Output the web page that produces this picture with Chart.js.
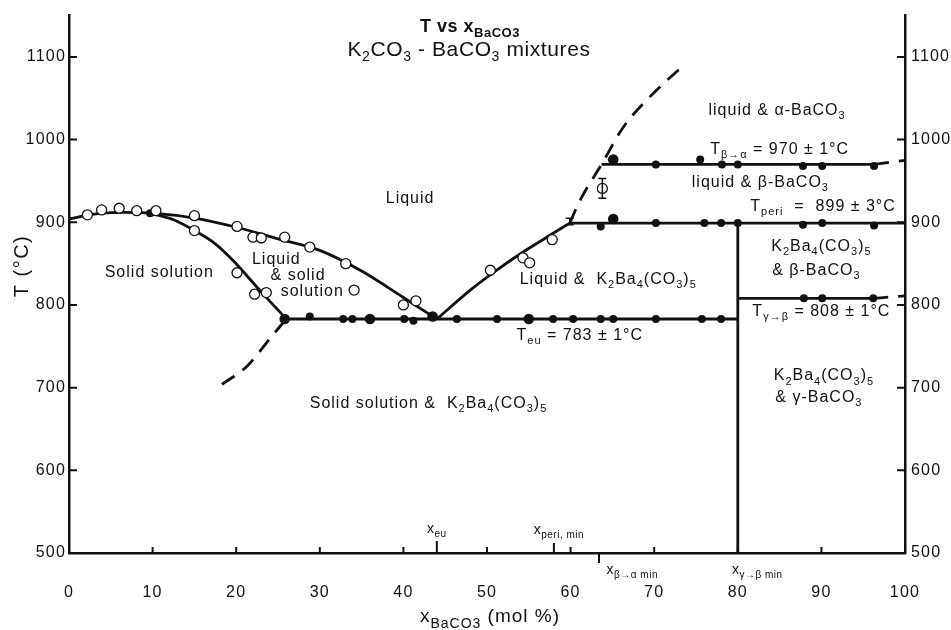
<!DOCTYPE html>
<html lang="en">
<head>
  <meta charset="UTF-8">
  <title>T vs xBaCO3 - K2CO3-BaCO3 mixtures</title>
  <script src="https://cdn.jsdelivr.net/npm/chart.js"></script>
  <style>
    html, body { margin: 0; padding: 0; background: #fff; }
    #wrap { width: 951px; height: 630px; }
  </style>
</head>
<body>
  <div id="wrap"><canvas id="chart" width="951" height="630"></canvas></div>

  <script>
    // axis ticks
    const xTicks = [0, 10, 20, 30, 40, 50, 60, 70, 80, 90, 100];
    const yTicks = [500, 600, 700, 800, 900, 1000, 1100];

    // liquidus, K2CO3-rich side (solid line)
    const liqLeftX = [0, 2, 4, 6.5, 10, 15, 20, 25, 30, 35, 40, 44];
    const liqLeftT = [904, 908, 911, 912, 911, 905, 894, 880, 866, 841, 809, 783];

    // solidus of the solid solution
    const solidusX = [9.7, 12.5, 15, 17.5, 19.6, 22.8, 26];
    const solidusT = [911, 903, 890, 874, 854, 818, 783];
    const solidusDashX = [18.3, 21.3, 24.4, 26];
    const solidusDashT = [704, 726, 764, 783];

    // liquidus, BaCO3-rich side
    const liqRightX = [44, 48, 51, 54, 57, 59.9];
    const liqRightT = [783, 818, 841, 862, 881, 899];
    const liqUpperX = [59.9, 61.1, 63.7, 66.3, 69.9, 73.3];
    const liqUpperT = [899, 926, 970, 1015, 1056, 1088];

    // invariant lines
    const eutecticX = [26, 80];
    const eutecticT = [783, 783];
    const periX = [59.9, 100];
    const periT = [899, 899];
    const betaAlphaX = [63.7, 96.3];
    const betaAlphaT = [970, 970];
    const betaAlphaDashX = [96.3, 100];
    const betaAlphaDashT = [970, 975];
    const gammaBetaX = [80, 96.2];
    const gammaBetaT = [808, 808];
    const gammaBetaDashX = [96.2, 100];
    const gammaBetaDashT = [808, 811];
    const compoundX = [80, 80];
    const compoundT = [899, 500];

    // measured points: filled dots (thermal arrests)
    const dotX = [9.7, 28.8, 32.8, 33.9, 40.1, 41.2, 46.4, 51.2, 57.9, 60.3, 63.6, 65.1, 70.2, 75.7, 78.0,
                  70.2, 75.5, 78.1, 80.0, 87.8, 90.1, 96.3,
                  63.6, 70.2, 76.0, 78.0, 80.0, 87.8, 90.1, 96.3,
                  87.9, 90.1, 96.2];
    const dotT = [911, 786, 783, 783, 783, 781, 783, 783, 783, 783, 783, 783, 783, 783, 783,
                  970, 976, 970, 970, 968, 968, 968,
                  895, 899, 899, 899, 899, 897, 899, 896,
                  808, 808, 808];
    const bigDotX = [25.8, 36.0, 43.5, 55.0, 65.1, 65.1];
    const bigDotT = [783, 783, 786, 783, 976, 904];

    // measured points: open circles (liquidus / solidus)
    const openX = [2.2, 3.9, 6.0, 8.1, 10.4, 15.0, 15.0, 20.1, 22.0, 23.0, 25.8, 28.8, 33.1,
                   20.1, 22.2, 23.6, 34.1, 40.0, 41.5, 50.4, 54.3, 55.1, 57.8, 63.8];
    const openT = [909, 915, 917, 914, 914, 908, 890, 895, 882, 881, 882, 870, 850,
                   839, 813, 815, 818, 800, 805, 842, 857, 851, 879, 941];

    // error bars
    const errX = [63.8, 59.9];
    const errT = [941, 901];
    const errD = [12, 4];

    // region and line labels (data units)
    const notes = [
      { x: 40.8, t: 929, s: 'Liquid' },
      { x: 10.8, t: 839, s: 'Solid solution' },
      { x: 24.8, t: 855, s: 'Liquid' },
      { x: 27.4, t: 835, s: '& solid' },
      { x: 29.1, t: 816, s: 'solution' },
      { x: 64.5, t: 831, s: 'Liquid &  K_2Ba_4(CO_3)_5' },
      { x: 43.0, t: 681, s: 'Solid solution &  K_2Ba_4(CO_3)_5' },
      { x: 61.1, t: 763, s: 'T_{eu} = 783 ± 1°C' },
      { x: 84.7, t: 1035, s: 'liquid & α-BaCO_3' },
      { x: 85.0, t: 988, s: 'T_{β→α} = 970 ± 1°C' },
      { x: 82.7, t: 948, s: 'liquid & β-BaCO_3' },
      { x: 90.2, t: 919, s: 'T_{peri}  =  899 ± 3°C' },
      { x: 90.0, t: 871, s: 'K_2Ba_4(CO_3)_5' },
      { x: 89.4, t: 842, s: '& β-BaCO_3' },
      { x: 90.0, t: 792, s: 'T_{γ→β} = 808 ± 1°C' },
      { x: 90.3, t: 714, s: 'K_2Ba_4(CO_3)_5' },
      { x: 89.7, t: 688, s: '& γ-BaCO_3' }
    ];

    const FONT = '"Liberation Sans", Arial, sans-serif';
    const INK = '#111';

    function pts(xs, ys) {
      return xs.map((x, i) => ({ x: x, y: ys[i] }));
    }

    function lineSet(xs, ys, dash) {
      return {
        data: pts(xs, ys),
        showLine: true,
        borderColor: INK,
        borderWidth: 2.8,
        borderDash: dash ? [15, 10] : [],
        pointRadius: 0,
        fill: false,
        cubicInterpolationMode: 'monotone',
        order: 2
      };
    }

    // text with _x or _{xx} subscripts
    function parseRich(s) {
      const segs = [];
      let buf = '', i = 0;
      while (i < s.length) {
        if (s[i] === '_') {
          if (buf) { segs.push({ t: buf, sub: false }); buf = ''; }
          i++;
          let t;
          if (s[i] === '{') { const j = s.indexOf('}', i); t = s.slice(i + 1, j); i = j + 1; }
          else { t = s[i]; i++; }
          segs.push({ t: t, sub: true });
        } else { buf += s[i]; i++; }
      }
      if (buf) segs.push({ t: buf, sub: false });
      return segs;
    }

    function drawRich(ctx, s, x, y, opt) {
      opt = opt || {};
      const size = opt.size || 16;
      const weight = opt.weight || 'normal';
      const subSize = opt.subSize || Math.round(size * 0.7);
      const main = weight + ' ' + size + 'px ' + FONT;
      const sub = weight + ' ' + subSize + 'px ' + FONT;
      const segs = parseRich(s);
      ctx.letterSpacing = opt.spacing || '1px';
      let w = 0;
      segs.forEach(g => { ctx.font = g.sub ? sub : main; g.w = ctx.measureText(g.t).width; w += g.w; });
      let cx = opt.align === 'left' ? x : x - w / 2;
      ctx.textAlign = 'left';
      ctx.textBaseline = 'middle';
      ctx.fillStyle = INK;
      segs.forEach(g => {
        ctx.font = g.sub ? sub : main;
        ctx.fillText(g.t, cx, g.sub ? y + size * 0.35 : y);
        cx += g.w;
      });
      ctx.letterSpacing = '0px';
    }

    const decor = {
      id: 'decor',
      beforeDraw(chart) {
        // wider tracking for the tick numbers, like the scanned figure
        chart.ctx.letterSpacing = '1.2px';
      },
      afterDraw(chart) {
        const ctx = chart.ctx;
        const xs = chart.scales.x, ys = chart.scales.y;
        const a = chart.chartArea;
        ctx.letterSpacing = '0px';
        ctx.save();
        ctx.strokeStyle = INK;
        ctx.lineWidth = 2;

        // inward tick marks
        yTicks.forEach(v => {
          const py = ys.getPixelForValue(v);
          ctx.beginPath();
          ctx.moveTo(a.left, py); ctx.lineTo(a.left + 8, py);
          ctx.moveTo(a.right - 8, py); ctx.lineTo(a.right, py);
          ctx.stroke();
        });
        xTicks.slice(1, -1).forEach(v => {
          const px = xs.getPixelForValue(v);
          ctx.beginPath();
          ctx.moveTo(px, a.bottom); ctx.lineTo(px, a.bottom - 6);
          ctx.stroke();
        });
        // composition markers on the x axis
        [[44, -12], [58, -10], [63.4, 10]].forEach(m => {
          const px = xs.getPixelForValue(m[0]);
          ctx.beginPath();
          ctx.moveTo(px, a.bottom); ctx.lineTo(px, a.bottom + m[1]);
          ctx.stroke();
        });

        // error bars
        ctx.lineWidth = 1.5;
        errX.forEach((x, i) => {
          const px = xs.getPixelForValue(x);
          const top = ys.getPixelForValue(errT[i] + errD[i]);
          const bot = ys.getPixelForValue(errT[i] - errD[i]);
          ctx.beginPath();
          ctx.moveTo(px, top); ctx.lineTo(px, bot);
          ctx.moveTo(px - 4, top); ctx.lineTo(px + 4, top);
          ctx.moveTo(px - 4, bot); ctx.lineTo(px + 4, bot);
          ctx.stroke();
        });

        // labels inside the diagram
        notes.forEach(n => {
          drawRich(ctx, n.s, xs.getPixelForValue(n.x), ys.getPixelForValue(n.t), { size: 16 });
        });

        // axis markers text
        drawRich(ctx, 'x_{eu}', xs.getPixelForValue(44), a.bottom - 24, { size: 14, subSize: 10, spacing: '0.5px' });
        drawRich(ctx, 'x_{peri, min}', xs.getPixelForValue(58.6), a.bottom - 23, { size: 14, subSize: 10, spacing: '0.5px' });
        drawRich(ctx, 'x_{β→α min}', xs.getPixelForValue(64.3), a.bottom + 17, { size: 14, subSize: 10, align: 'left', spacing: '0.5px' });
        drawRich(ctx, 'x_{γ→β min}', xs.getPixelForValue(79.3), a.bottom + 17, { size: 14, subSize: 10, align: 'left', spacing: '0.5px' });

        // title
        drawRich(ctx, 'T vs x_{BaCO3}', 470, 27, { size: 18, weight: 'bold', subSize: 13, spacing: '0.5px' });
        drawRich(ctx, 'K_2CO_3 - BaCO_3 mixtures', 469, 50, { size: 21, subSize: 14, spacing: '0.6px' });

        // axis titles
        drawRich(ctx, 'x_{BaCO3} (mol %)', 490, 617, { size: 19, subSize: 14, spacing: '1px' });
        ctx.translate(22, 266);
        ctx.rotate(-Math.PI / 2);
        drawRich(ctx, 'T (°C)', 0, 0, { size: 20, spacing: '1.5px' });
        ctx.restore();
      }
    };

    const tickFont = { family: FONT, size: 16 };
    const plain = v => String(v);

    new Chart(document.getElementById('chart'), {
      type: 'scatter',
      data: {
        datasets: [
          {
            data: pts(openX, openT),
            pointRadius: 5,
            pointBorderWidth: 1.3,
            pointBackgroundColor: '#fff',
            pointBorderColor: INK,
            order: 0
          },
          {
            data: pts(bigDotX, bigDotT),
            pointRadius: 5.3,
            pointBorderWidth: 0,
            pointBackgroundColor: INK,
            order: 1
          },
          {
            data: pts(dotX, dotT),
            pointRadius: 4,
            pointBorderWidth: 0,
            pointBackgroundColor: INK,
            order: 1
          },
          lineSet(liqLeftX, liqLeftT),
          lineSet(solidusX, solidusT),
          lineSet(solidusDashX, solidusDashT, true),
          lineSet(liqRightX, liqRightT),
          lineSet(liqUpperX, liqUpperT, true),
          lineSet(eutecticX, eutecticT),
          lineSet(periX, periT),
          lineSet(betaAlphaX, betaAlphaT),
          lineSet(betaAlphaDashX, betaAlphaDashT, true),
          lineSet(gammaBetaX, gammaBetaT),
          lineSet(gammaBetaDashX, gammaBetaDashT, true),
          lineSet(compoundX, compoundT)
        ]
      },
      options: {
        responsive: false,
        animation: false,
        layout: { padding: { top: 12, left: 0, right: 0, bottom: 0 } },
        plugins: { legend: { display: false }, tooltip: { enabled: false } },
        scales: {
          x: {
            type: 'linear', min: 0, max: 100,
            afterBuildTicks: s => { s.ticks = xTicks.map(v => ({ value: v })); },
            afterFit: s => { s.height = 77; },
            ticks: { font: tickFont, color: INK, padding: 30, maxRotation: 0, callback: plain },
            grid: { display: false, drawTicks: false },
            border: { color: INK, width: 2.5 }
          },
          y: {
            type: 'linear', position: 'left', min: 500, max: 1150,
            afterBuildTicks: s => { s.ticks = yTicks.map(v => ({ value: v })); },
            afterFit: s => { s.width = 69; },
            ticks: { font: tickFont, color: INK, padding: 3, callback: plain },
            grid: { display: false, drawTicks: false },
            border: { color: INK, width: 2.5 }
          },
          y2: {
            type: 'linear', position: 'right', min: 500, max: 1150,
            afterBuildTicks: s => { s.ticks = yTicks.map(v => ({ value: v })); },
            afterFit: s => { s.width = 46; },
            ticks: { font: tickFont, color: INK, padding: 6, callback: plain },
            grid: { display: false, drawTicks: false },
            border: { color: INK, width: 2.5 }
          }
        }
      },
      plugins: [decor]
    });
  </script>
</body>
</html>
